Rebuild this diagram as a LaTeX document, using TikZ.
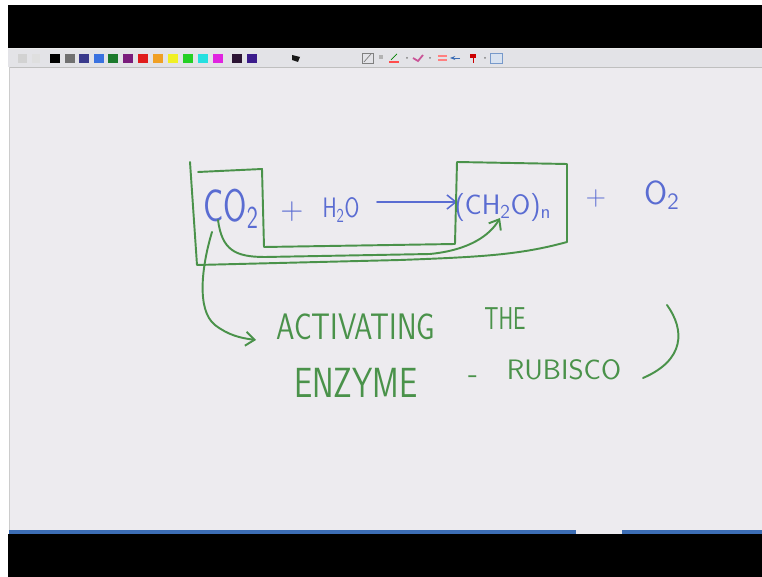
\documentclass[tikz,border=0pt]{standalone}
\usepackage{tikz}
\usetikzlibrary{arrows.meta,calc}
\definecolor{canvas}{HTML}{EDEBEF}
\definecolor{barbg}{HTML}{E3E3E7}
\definecolor{penblue}{HTML}{5A6CD2}
\definecolor{pengreen}{HTML}{4A924A}
\definecolor{frameblue}{HTML}{3C6DB4}
\definecolor{tbgray}{HTML}{707070}
\definecolor{tbnavy}{HTML}{3A3A8C}
\definecolor{tbblue}{HTML}{3A72E0}
\definecolor{tbgreen}{HTML}{1C7A2C}
\definecolor{tbpurple}{HTML}{7A1C7C}
\definecolor{tbred}{HTML}{E01C1C}
\definecolor{tborange}{HTML}{F0A024}
\definecolor{tbyellow}{HTML}{F0F024}
\definecolor{tblime}{HTML}{24D024}
\definecolor{tbcyan}{HTML}{24E0E0}
\definecolor{tbmagenta}{HTML}{E024E0}
\definecolor{tbplum}{HTML}{2C1434}
\definecolor{tbindigo}{HTML}{3C1C8C}
\newcommand{\penfont}[1]{\fontsize{#1}{#1}\selectfont}
\tikzset{
  bluetxt/.style={text=penblue, font=\sffamily\penfont{#1}, inner sep=0pt},
  greentxt/.style={text=pengreen, font=\sffamily\penfont{#1}, inner sep=0pt},
  pen/.style={draw=pengreen, line width=1.1pt, line cap=round, line join=round},
  penarrow/.style={pen, -{Straight Barb[length=5pt,width=8pt]}},
  bluearrow/.style={draw=penblue, line width=0.9pt, line cap=round,
    -{Straight Barb[length=5pt,width=8pt]}},
}

\begin{document}
\begin{tikzpicture}[x=0.02cm,y=-0.02cm]
  \useasboundingbox (0,0) rectangle (762,577);
  \fill[white] (0,0) rectangle (762,577);
  % window frame
  \fill[black] (8,5) rectangle (762,48);
  \fill[barbg] (8,48) rectangle (762,67);
  \draw[white!85!gray] (8,48.5) -- (762,48.5);
  \fill[canvas] (9,67) rectangle (762,534);
  \draw[gray!50] (9,67) -- (762,67);
  \draw[gray!40] (9.5,67) -- (9.5,530);
  \fill[frameblue] (9,530) rectangle (576,534);
  \fill[frameblue] (622,530) rectangle (762,534);
  \fill[black] (8,534) rectangle (762,577);
  % toolbar
  \fill[gray!35] (18,54) rectangle (27,63);
  \fill[gray!25] (32,54) rectangle (40,63);
  \foreach \x/\c in {55/black,70/tbgray,84/tbnavy,99/tbblue,113/tbgreen,128/tbpurple,
    143/tbred,158/tborange,173/tbyellow,188/tblime,203/tbcyan,218/tbmagenta,237/tbplum,252/tbindigo}
    \fill[\c] (\x-5,54) rectangle (\x+5,63);
  \fill[gray!20!black] (292,55) -- (300,57) -- (298,62) -- (292,60) -- cycle;
  \draw[gray] (362,53) rectangle (373,63);
  \draw[gray] (364,62) -- (371,54);
  \fill[gray!60] (379,55) rectangle (383,59);
  \draw[red!70, line width=1pt] (389,62) -- (399,62);
  \draw[green!50!black] (391,60) -- (397,54);
  \draw[magenta!60!gray, line width=1pt] (413,58) -- (418,61) -- (423,55);
  \draw[red!50, line width=1pt] (438,56) -- (447,56) (438,60) -- (447,60);
  \draw[frameblue, -{Stealth[length=3pt]}] (460,58) -- (450,58);
  \fill[red!80!black] (470,54) rectangle (476,58);
  \draw[red!80!black] (473,58) -- (473,63);
  \foreach \x in {407,430,485} \fill[gray] (\x,58) circle (1);
  \draw[frameblue!70, fill=frameblue!20] (490,53) rectangle (502,63);

  % equation
  \node[bluetxt=26, xscale=0.74] (co2) at (231,209) {CO\textsubscript{2}};
  \node[bluetxt=18] (plusa) at (292,212) {+};
  \node[bluetxt=16, xscale=0.76] (h2o) at (341,210) {H\textsubscript{2}O};
  \node[bluetxt=16] (ch2on) at (503,207) {(CH\textsubscript{2}O)\textsubscript{n}};
  \node[bluetxt=16] (plusb) at (596,198) {+};
  \node[bluetxt=19] (o2) at (662,195) {O\textsubscript{2}};
  \coordinate (rxs) at (377,202);
  \coordinate (rxe) at (457,202);
  \draw[bluearrow] (rxs) -- (rxe);

  % notes
  \node[greentxt=21, xscale=0.8] (activating) at (356,327) {ACTIVATING};
  \node[greentxt=18, xscale=0.7] (the) at (505,319) {THE};
  \node[greentxt=24, xscale=0.77] (enzyme) at (356,383) {ENZYME};
  \node[greentxt=18] (dash) at (473,380) {-};
  \node[greentxt=16, xscale=1.03] (rubisco) at (564,370) {RUBISCO};

  % green markings
  \draw[pen] (198,172) -- (262,169) -- (264,247) -- (455,244) -- (457,162) -- (567,164)
    -- (567,242) .. controls (520,255) and (480,257) .. (400,260) -- (197,265) -- (190,162);
  \coordinate (co2a) at (218,220);
  \coordinate (co2b) at (212,232);
  \coordinate (ch2ona) at (500,218);
  \coordinate (actin) at (256,340);
  \draw[penarrow] (co2a) .. controls (222,250) and (235,257) .. (265,257) -- (430,254)
    .. controls (470,250) and (490,235) .. (ch2ona);
  \draw[penarrow] (co2b) .. controls (202,265) and (196,310) .. (215,325)
    .. controls (228,335) and (240,338) .. (actin);
  \draw[pen] (667,305) .. controls (685,330) and (685,360) .. (643,378);
\end{tikzpicture}
\end{document}
